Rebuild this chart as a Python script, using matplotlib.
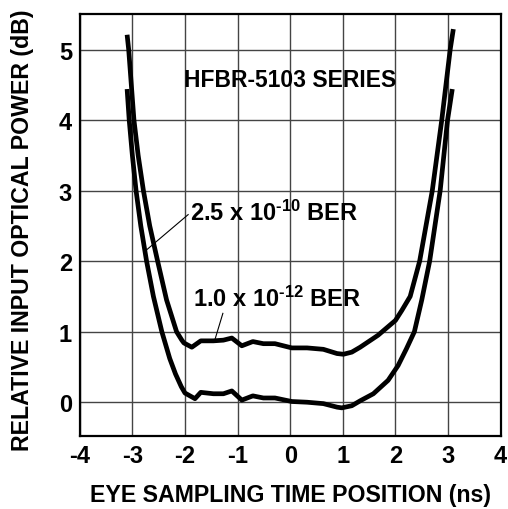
import numpy as np
import matplotlib.pyplot as plt

plt.rcParams['font.family'] = ['Liberation Sans', 'DejaVu Sans']
plt.rcParams['font.weight'] = 'bold'
plt.rcParams['axes.unicode_minus'] = False
plt.rcParams['mathtext.fontset'] = 'custom'
plt.rcParams['mathtext.rm'] = 'Liberation Sans:bold'
plt.rcParams['mathtext.it'] = 'Liberation Sans:bold'
plt.rcParams['mathtext.bf'] = 'Liberation Sans:bold'

# 1.0 x 10^-12 BER curve (upper)
x_12 = [-3.10, -3.07, -3.02, -2.97, -2.89, -2.79, -2.67, -2.52, -2.35, -2.16, -2.06, -2.02,
        -1.87, -1.70, -1.46, -1.27, -1.11, -0.92, -0.71, -0.51, -0.29, 0.03, 0.32,
        0.63, 0.89, 1.01, 1.17, 1.33, 1.67, 2.00, 2.12, 2.28, 2.46, 2.58, 2.70,
        2.79, 2.88, 2.96, 3.04, 3.10]
y_12 = [5.21, 5.00, 4.50, 4.00, 3.50, 3.00, 2.50, 2.00, 1.45, 1.00, 0.88, 0.84,
        0.78, 0.87, 0.87, 0.88, 0.91, 0.80, 0.86, 0.83, 0.83, 0.77, 0.77,
        0.75, 0.69, 0.68, 0.71, 0.78, 0.95, 1.16, 1.30, 1.50, 2.00, 2.50, 3.00,
        3.50, 4.00, 4.50, 5.00, 5.29]

# 2.5 x 10^-10 BER curve (lower)
x_10 = [-3.10, -3.06, -3.00, -2.93, -2.84, -2.73, -2.60, -2.44, -2.29, -2.18, -2.07, -2.00,
        -1.81, -1.70, -1.46, -1.27, -1.11, -0.92, -0.71, -0.51, -0.29, 0.03, 0.32,
        0.63, 0.89, 0.98, 1.17, 1.33, 1.58, 1.86, 2.05, 2.21, 2.36, 2.50, 2.65,
        2.75, 2.85, 2.92, 2.99, 3.08]
y_10 = [4.44, 4.00, 3.50, 3.00, 2.50, 2.00, 1.50, 1.00, 0.62, 0.40, 0.22, 0.13,
        0.05, 0.14, 0.12, 0.12, 0.16, 0.03, 0.09, 0.06, 0.06, 0.01, 0.00,
        -0.02, -0.07, -0.08, -0.05, 0.02, 0.12, 0.31, 0.52, 0.76, 1.00, 1.45, 2.00,
        2.50, 3.00, 3.50, 4.00, 4.44]

x_ticks = [-4, -3, -2, -1, 0, 1, 2, 3, 4]
y_ticks = [0, 1, 2, 3, 4, 5]

fig = plt.figure(figsize=(5.08, 5.10), dpi=100)
ax = fig.add_axes([0.157, 0.143, 0.8286, 0.827])

ax.plot(x_12, y_12, color='black', linewidth=3.4, solid_joinstyle='round', solid_capstyle='butt')
ax.plot(x_10, y_10, color='black', linewidth=3.4, solid_joinstyle='round', solid_capstyle='butt')

ax.set_xlim(-4, 4)
ax.set_ylim(-0.48, 5.5)
ax.set_xticks(x_ticks)
ax.set_yticks(y_ticks)
ax.set_xticklabels([str(t) for t in x_ticks])
ax.grid(True, color='#444444', linewidth=1.0)
ax.set_axisbelow(True)
ax.tick_params(length=0, labelsize=17)
ax.tick_params(axis='x', pad=6)
ax.tick_params(axis='y', pad=5.5)
for lab in ax.get_xticklabels() + ax.get_yticklabels():
    lab.set_fontweight('bold')
for sp in ax.spines.values():
    sp.set_linewidth(1.6)

ax.set_xlabel('EYE SAMPLING TIME POSITION (ns)', fontsize=16.7, fontweight='bold', va='center')
ax.set_ylabel('RELATIVE INPUT OPTICAL POWER (dB)', fontsize=16.7, fontweight='bold', va='center')
ax.xaxis.set_label_coords(0.5, -0.1376)
ax.yaxis.set_label_coords(-0.137, 0.491)

ax.text(0, 4.58, 'HFBR-5103 SERIES', fontsize=16.5, fontweight='bold', ha='center', va='center')
ax.text(-1.905, 2.58, r'2.5 x 10$^{\text{-10}}$ BER', fontsize=17, fontweight='bold',
        ha='left', va='baseline')
ax.text(-1.85, 1.36, r'1.0 x 10$^{\text{-12}}$ BER', fontsize=17, fontweight='bold',
        ha='left', va='baseline')

# leader lines
ax.plot([-1.94, -2.73], [2.66, 2.16], color='black', linewidth=0.8)
ax.plot([-1.28, -1.43], [1.26, 0.89], color='black', linewidth=0.8)

fig.savefig('out.png', dpi=100)
